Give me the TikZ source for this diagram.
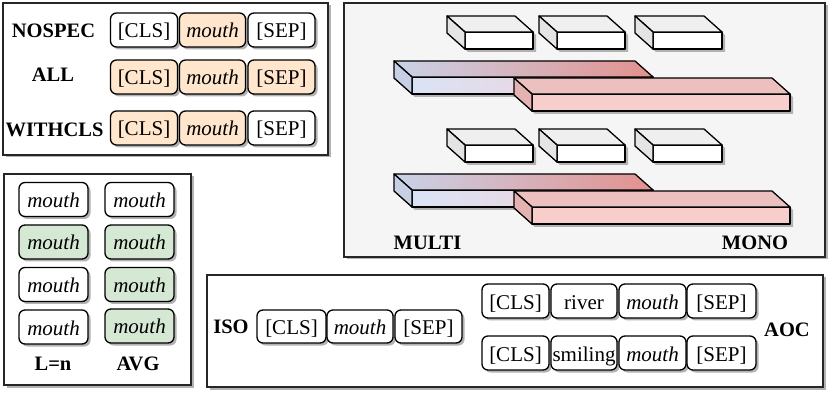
\documentclass[tikz,border=0pt]{standalone}
\usepackage{fontspec}
\setmainfont{Liberation Serif}
\usetikzlibrary{shadows}
\definecolor{peach}{HTML}{FFE6CC}
\definecolor{mint}{HTML}{D5E8D4}
\definecolor{panelgrey}{HTML}{F5F5F5}
\definecolor{mfrontL}{HTML}{DAE3F6}
\definecolor{mfrontR}{HTML}{F5CDCF}
\definecolor{mtopL}{HTML}{C9D2E8}
\definecolor{mtopR}{HTML}{E3918D}
\definecolor{mside}{HTML}{C6CFE3}
\definecolor{rfront}{HTML}{F8CECC}
\definecolor{rtop}{HTML}{EBC0BF}
\definecolor{rside}{HTML}{E3B2B1}
\definecolor{wtop}{HTML}{EFEFEF}
\definecolor{wside}{HTML}{E4E4E4}
\tikzset{
  shad/.style={drop shadow={shadow xshift=2.5pt,shadow yshift=-2.5pt,fill=black!30,opacity=1}},
  panel/.style={draw=black!85,line width=1.3pt,shad},
  tok/.style={draw,rounded corners=6pt,line width=1.3pt,fill=white,minimum height=34pt,
    inner sep=0pt,text height=16pt,text depth=0pt,font=\fontsize{21}{24}\selectfont,shad},
  lab/.style={font=\fontsize{20.5}{24}\selectfont\bfseries,inner sep=0pt},
  boxline/.style={draw=black,line width=1.3pt,line join=round},
}
\newcommand{\tdbox}[7]{%
  \fill[black!30,shift={(3,3)}] (#1-18,#2-16) -- (#3-18,#2-16) -- (#3,#2) -- (#3,#4) -- (#1,#4) -- (#1-18,#4-16) -- cycle;
  \path[boxline,#5] (#1,#2) rectangle (#3,#4);
  \path[boxline,#6] (#1,#2) -- (#1-18,#2-16) -- (#3-18,#2-16) -- (#3,#2) -- cycle;
  \path[boxline,#7] (#1,#2) -- (#1-18,#2-16) -- (#1-18,#4-16) -- (#1,#4) -- cycle;
}
\begin{document}
\begin{tikzpicture}[x=1pt,y=-1pt]
\useasboundingbox (0,0) rectangle (830,395);
% panels
\draw[panel,fill=white] (3,3) rectangle (328,155);
\draw[panel,fill=white] (4,174) rectangle (191,385);
\draw[panel,fill=panelgrey] (344,3) rectangle (825,257);
\draw[panel,fill=white] (207,275) rectangle (823,387);

% panel 1
\node[lab] (lnospec) at (53.5,31) {NOSPEC};
\node[lab] (lall) at (53,75) {ALL};
\node[lab] (lwith) at (54.5,130) {WITHCLS};
\node[tok,minimum width=67pt] (a1) at (144,30) {[CLS]};
\node[tok,minimum width=66pt,fill=peach] (a2) at (212.5,30) {\itshape mouth};
\node[tok,minimum width=67pt] (a3) at (281.5,30) {[SEP]};
\node[tok,minimum width=67pt,fill=peach] (b1) at (144,77) {[CLS]};
\node[tok,minimum width=66pt,fill=peach] (b2) at (212.5,77) {\itshape mouth};
\node[tok,minimum width=67pt,fill=peach] (b3) at (281.5,77) {[SEP]};
\node[tok,minimum width=67pt,fill=peach] (c1) at (144,128) {[CLS]};
\node[tok,minimum width=66pt,fill=peach] (c2) at (212.5,128) {\itshape mouth};
\node[tok,minimum width=67pt] (c3) at (281.5,128) {[SEP]};

% panel 2
\node[tok,minimum width=69pt] (l1) at (53.5,199.5) {\itshape mouth};
\node[tok,minimum width=69pt,fill=mint] (l2) at (53.5,242) {\itshape mouth};
\node[tok,minimum width=69pt] (l3) at (53.5,284.5) {\itshape mouth};
\node[tok,minimum width=69pt] (l4) at (53.5,327) {\itshape mouth};
\node[tok,minimum width=69pt] (v1) at (139.5,199.5) {\itshape mouth};
\node[tok,minimum width=69pt,fill=mint] (v2) at (139.5,242) {\itshape mouth};
\node[tok,minimum width=69pt,fill=mint] (v3) at (139.5,284.5) {\itshape mouth};
\node[tok,minimum width=69pt,fill=mint] (v4) at (139.5,326) {\itshape mouth};
\node[lab] (lln) at (53,364) {L=n};
\node[lab] (lavg) at (138,364) {AVG};

% panel 3
\foreach \yo in {0,113}{
  \tdbox{465}{32+\yo}{533}{49+\yo}{fill=white}{fill=wtop}{fill=wside}
  \tdbox{557}{32+\yo}{625}{49+\yo}{fill=white}{fill=wtop}{fill=wside}
  \tdbox{653}{32+\yo}{722}{49+\yo}{fill=white}{fill=wtop}{fill=wside}
  \tdbox{412}{77+\yo}{653}{94+\yo}{left color=mfrontL,right color=mfrontR}{left color=mtopL,right color=mtopR}{fill=mside}
  \tdbox{532}{94+\yo}{790}{111+\yo}{fill=rfront}{fill=rtop}{fill=rside}
}
\node[lab] (lmulti) at (427.5,243) {MULTI};
\node[lab] (lmono) at (755,243) {MONO};

% panel 4
\node[lab] (liso) at (231,327) {ISO};
\node[tok,minimum width=69pt,minimum height=33pt] (i1) at (291.5,326.5) {[CLS]};
\node[tok,minimum width=66pt,minimum height=33pt] (i2) at (360,326.5) {\itshape mouth};
\node[tok,minimum width=67pt,minimum height=33pt] (i3) at (428.5,326.5) {[SEP]};
\node[tok,minimum width=67pt] (r1) at (515.5,301) {[CLS]};
\node[tok,minimum width=66pt] (r2) at (584,301) {river};
\node[tok,minimum width=67pt] (r3) at (652.5,301) {\itshape mouth};
\node[tok,minimum width=69pt] (r4) at (721.5,301) {[SEP]};
\node[tok,minimum width=67pt] (s1) at (515.5,353) {[CLS]};
\node[tok,minimum width=66pt] (s2) at (584,353) {smiling};
\node[tok,minimum width=67pt] (s3) at (652.5,353) {\itshape mouth};
\node[tok,minimum width=69pt] (s4) at (721.5,353) {[SEP]};
\node[lab] (laoc) at (787,330) {AOC};
\end{tikzpicture}
\end{document}
